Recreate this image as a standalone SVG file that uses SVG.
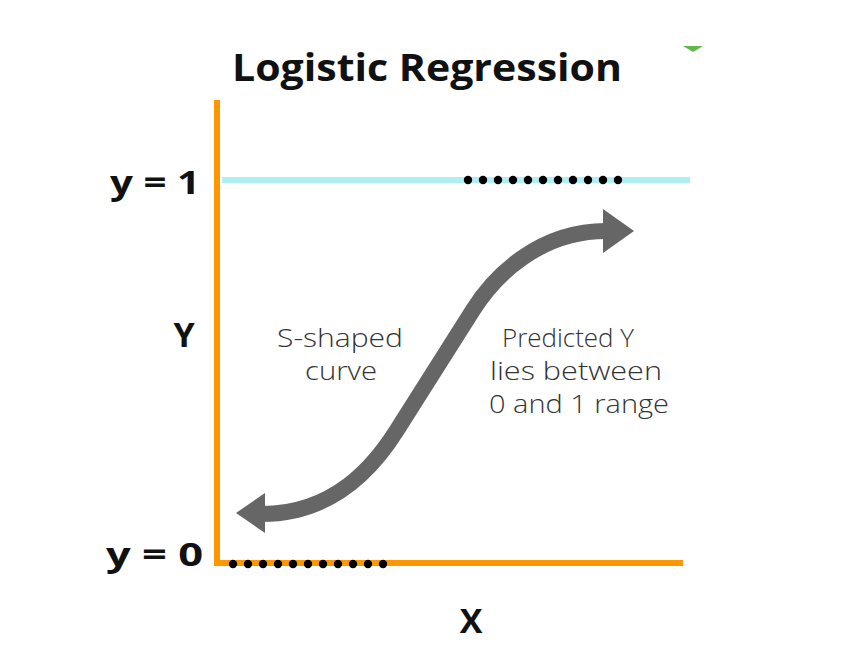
<svg xmlns="http://www.w3.org/2000/svg" width="846" height="647" viewBox="0 0 846 647">
  <style>
    .bold { font-family: "Open Sans", "Liberation Sans", sans-serif; font-weight: 700; fill: #111; }
    .lbl { font-family: "Open Sans", "Liberation Sans", sans-serif; font-weight: 300; font-size: 25px; fill: #333; }
    .dot { fill: #000; }
  </style>
  <defs>
    <circle id="d" r="4.2" class="dot"/>
  </defs>
  <rect width="846" height="647" fill="#fff"/>
  <polygon points="683,46 703,46 693,52" fill="#5fb848"/>
  <text id="title" class="bold" x="232" y="81" font-size="38" textLength="390" lengthAdjust="spacingAndGlyphs">Logistic Regression</text>

  <g id="axes">
    <line x1="222" y1="180" x2="690" y2="180" stroke="#aeeef4" stroke-width="6"/>
    <line x1="217" y1="100" x2="217" y2="566" stroke="#ff9800" stroke-width="6"/>
    <line x1="214" y1="563" x2="683" y2="563" stroke="#ff9800" stroke-width="6"/>
  </g>

  <g id="dots-top">
    <use href="#d" x="468" y="180"/><use href="#d" x="483" y="180"/><use href="#d" x="498" y="180"/>
    <use href="#d" x="513" y="180"/><use href="#d" x="528" y="180"/><use href="#d" x="543" y="180"/>
    <use href="#d" x="558" y="180"/><use href="#d" x="573" y="180"/><use href="#d" x="588" y="180"/>
    <use href="#d" x="603" y="180"/><use href="#d" x="618" y="180"/>
  </g>
  <g id="dots-bottom">
    <use href="#d" x="233" y="564"/><use href="#d" x="248" y="564"/><use href="#d" x="263" y="564"/>
    <use href="#d" x="278" y="564"/><use href="#d" x="293" y="564"/><use href="#d" x="308" y="564"/>
    <use href="#d" x="323" y="564"/><use href="#d" x="338" y="564"/><use href="#d" x="353" y="564"/>
    <use href="#d" x="368" y="564"/><use href="#d" x="383" y="564"/>
  </g>

  <g id="labels">
    <text class="bold" x="110" y="194" font-size="32" textLength="90" lengthAdjust="spacingAndGlyphs">y = 1</text>
    <text class="bold" x="106" y="566" font-size="32" textLength="97" lengthAdjust="spacingAndGlyphs">y = 0</text>
    <text class="bold" x="184" y="347" font-size="34" text-anchor="middle">Y</text>
    <text class="bold" x="471" y="633" font-size="34" text-anchor="middle">X</text>
  </g>

  <g id="connectors">
    <path d="M 262 514 C 335 514, 375 465, 397 430 L 473 310 C 495 275, 540 231, 606 231" fill="none" stroke="#666" stroke-width="16"/>
    <polygon points="603,209 634,231 603,253" fill="#666"/>
    <polygon points="265,493 236,513 265,533" fill="#666"/>
  </g>

  <g id="text-s">
    <text class="lbl" x="277" y="347" textLength="126" lengthAdjust="spacingAndGlyphs">S-shaped</text>
    <text class="lbl" x="305" y="380" textLength="72" lengthAdjust="spacingAndGlyphs">curve</text>
  </g>
  <g id="text-pred">
    <text class="lbl" x="502" y="347" textLength="132" lengthAdjust="spacingAndGlyphs">Predicted Y</text>
    <text class="lbl" x="490" y="380" textLength="172" lengthAdjust="spacingAndGlyphs">lies between</text>
    <text class="lbl" x="489" y="413" textLength="180" lengthAdjust="spacingAndGlyphs">0 and 1 range</text>
  </g>
</svg>
